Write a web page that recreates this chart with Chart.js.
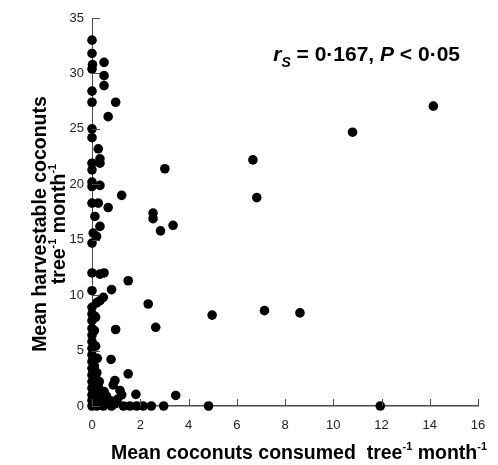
<!DOCTYPE html>
<html>
<head>
<meta charset="utf-8">
<script src="https://cdn.jsdelivr.net/npm/chart.js@4"></script>
<style>
  html, body { margin: 0; padding: 0; background: #fff; }
  #wrap { width: 498px; height: 465px; }
</style>
</head>
<body>
<div id="wrap"><canvas id="coconutChart" width="498" height="465"></canvas></div>
<script>
// valores (consumidos vs cosechables, por arbol y mes)
const consumed = [
  0, 0, 0.02, 0, 0.5, 0.5, 0.5, 0, 0, 0.98, 0.67,
  0, 0, 0.26, 0.33, 0.33, 0, 0, 3.02, 0, 0, 0.33, 1.23,
  0, 0.26, 0.67, 2.53, 2.53, 0.12, 0.33, 0.05, 0.19, 0, 2.84, 3.36,
  6.67, 6.83, 10.8, 14.15,
  0, 0.33, 0.5, 1.5, 0, 0.81, 0.47, 0.33, 0.19, 0, 2.33,
  0.98, 2.64, 4.98, 7.15, 8.62,
  0.79, 1.5, 0.88, 0.95, 1.16, 1.23, 1.82, 3.47,
  0, 0.2, 0.47, 0.81, 1.3, 1.57, 1.85, 2.12, 2.46, 2.97, 4.83, 11.95,
  0, 0, 0, 0, 0, 0, 0, 0, 0, 0, 0, 0, 0, 0,
  0.15, 0.15, 0.15, 0.15, 0.15, 0.3, 0.3, 0.3, 0.3, 0.1, 0.1,
  0.5, 0.5, 0.65, 0.12, 0.25, 0.35, 0.8,
  0.6, 0.4, 0.75, 0.95, 1.05, 0.2, 0.22
];
const harvestable = [
  33.0, 31.8, 30.8, 30.4, 31.0, 29.8, 28.9, 28.4, 27.4, 27.4, 26.1,
  25.0, 24.2, 23.2, 22.3, 21.9, 21.9, 21.3, 21.4, 20.2, 19.8, 19.9, 19.0,
  18.3, 18.3, 17.9, 17.4, 16.9, 17.1, 16.2, 15.6, 15.3, 14.7, 15.8, 16.3,
  22.2, 18.8, 24.7, 27.05,
  12.0, 11.9, 12.0, 11.3, 10.4, 10.5, 9.8, 9.5, 9.3, 8.9, 9.2,
  6.9, 7.1, 8.2, 8.6, 8.4,
  4.2, 2.9, 1.9, 2.3, 1.4, 1.0, 1.05, 0.95,
  0, 0, 0, 0, 0, 0, 0, 0, 0, 0, 0, 0,
  8.3, 7.7, 7.0, 6.4, 5.8, 5.2, 4.6, 4.0, 3.4, 2.8, 2.2, 1.6, 1.0, 0.5,
  8.0, 5.4, 2.5, 1.2, 0.3, 2.2, 1.5, 0.8, 0.2, 6.8, 3.6,
  0.6, 1.3, 0.2, 8.1, 1.8, 1.2, 0.3,
  0.9, 0.5, 0.5, 0.2, 0.6, 3.0, 4.3
];
const xTicks = [0, 2, 4, 6, 8, 10, 12, 14, 16];
const yTicks = [0, 5, 10, 15, 20, 25, 30, 35];

const FONT = '"Liberation Sans", Arial, sans-serif';
const AXIS_COLOR = '#4a4a4a';

// escribe texto con partes en superindice / subindice / cursiva
function drawRich(ctx, parts, x, y, align) {
    let total = 0;
    parts.forEach(p => { ctx.font = p.font; total += ctx.measureText(p.text).width; });
    let cx = align === 'center' ? x - total / 2 : (align === 'right' ? x - total : x);
    ctx.textAlign = 'left';
    ctx.textBaseline = 'alphabetic';
    parts.forEach(p => {
        ctx.font = p.font;
        ctx.fillText(p.text, cx, y + (p.dy || 0));
        cx += ctx.measureText(p.text).width;
    });
}

const extras = {
    id: 'extras',
    afterDraw(chart) {
        const ctx = chart.ctx;
        const xs = chart.scales.x, ys = chart.scales.y;
        ctx.save();
        // marcas de los ejes hacia dentro
        ctx.strokeStyle = AXIS_COLOR;
        ctx.lineWidth = 1;
        ctx.beginPath();
        xTicks.forEach(v => {
            const px = Math.round(xs.getPixelForValue(v)) + 0.5;
            ctx.moveTo(px, ys.bottom);
            ctx.lineTo(px, ys.bottom - 7);
        });
        yTicks.forEach(v => {
            const py = Math.round(ys.getPixelForValue(v)) + 0.5;
            ctx.moveTo(xs.left, py);
            ctx.lineTo(xs.left + 8, py);
        });
        ctx.stroke();

        ctx.fillStyle = '#000';
        const big = 'bold 19.5px ' + FONT;
        const sup = 'bold 11px ' + FONT;
        // titulo eje x
        drawRich(ctx, [
            { text: 'Mean coconuts consumed  tree', font: big },
            { text: '-1', font: sup, dy: -9 },
            { text: ' month', font: big },
            { text: '-1', font: sup, dy: -9 }
        ], 299, 459, 'center');

        // titulo eje y (dos lineas, girado)
        ctx.save();
        ctx.rotate(-Math.PI / 2);
        drawRich(ctx, [{ text: 'Mean harvestable coconuts', font: big }], -224, 46, 'center');
        drawRich(ctx, [
            { text: 'tree', font: big },
            { text: '-1', font: sup, dy: -9 },
            { text: ' month', font: big },
            { text: '-1', font: sup, dy: -9 }
        ], -224, 65, 'center');
        ctx.restore();

        // estadistico de correlacion
        drawRich(ctx, [
            { text: 'r', font: 'italic bold 21px ' + FONT },
            { text: 'S', font: 'italic bold 14px ' + FONT, dy: 6 },
            { text: ' = 0\u00b7167, ', font: 'bold 21px ' + FONT },
            { text: 'P', font: 'italic bold 21px ' + FONT },
            { text: ' < 0\u00b705', font: 'bold 21px ' + FONT }
        ], 460, 61, 'right');
        ctx.restore();
    }
};

const points = consumed.map((x, i) => ({ x: x, y: harvestable[i] }));

new Chart(document.getElementById('coconutChart'), {
    type: 'scatter',
    data: {
        datasets: [{
            data: points,
            backgroundColor: '#000',
            borderWidth: 0,
            pointRadius: 4.8,
            clip: false
        }]
    },
    options: {
        responsive: false,
        animation: false,
        layout: { padding: { top: 18, right: 20, left: 0, bottom: 0 } },
        plugins: { legend: { display: false }, tooltip: { enabled: false } },
        scales: {
            x: {
                type: 'linear',
                min: 0, max: 16,
                afterBuildTicks: s => { s.ticks = xTicks.map(v => ({ value: v })); },
                afterFit: s => { s.height = 59; },
                grid: { display: false, drawTicks: false },
                border: { display: true, color: AXIS_COLOR, width: 1.5 },
                ticks: { padding: 12, color: '#222', font: { family: FONT, size: 13 } }
            },
            y: {
                type: 'linear',
                min: 0, max: 35,
                afterBuildTicks: s => { s.ticks = yTicks.map(v => ({ value: v })); },
                afterFit: s => { s.width = 92; },
                grid: { display: false, drawTicks: false },
                border: { display: true, color: AXIS_COLOR, width: 1 },
                ticks: { padding: 8, color: '#222', font: { family: FONT, size: 13 } }
            }
        }
    },
    plugins: [extras]
});
</script>
</body>
</html>
